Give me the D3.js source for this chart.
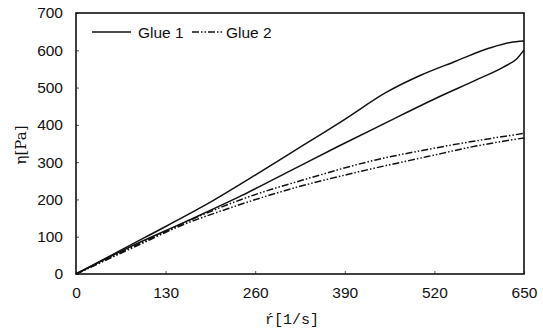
<!DOCTYPE html>
<html>
<head>
<meta charset="utf-8">
<script src="https://d3js.org/d3.v7.min.js"></script>
<style>
  body { margin: 0; background: #fff; }
  svg { display: block; }
  .tick text { font-family: "Liberation Sans", Arial, sans-serif; font-size: 15.5px; fill: #111; }
</style>
</head>
<body>
<svg id="chart" width="543" height="330"></svg>
<script>
// shear rate [1/s] vs viscosity [Pa], up and down sweeps (x ascending)
var glue1Up = [[0,0],[100,98],[200,198],[260,265],[320,334],[390,415],[450,487],[500,533],[550,570],[600,606],[630,621],[650,625]];
var glue1Down = [[0,0],[80,74],[160,141],[240,210],[310,276],[380,342],[450,406],[530,478],[580,520],[620,555],[640,578],[650,601]];
var glue2Up = [[0,0],[100,88],[170,148],[240,200],[340,258],[435,306],[510,334],[600,363],[650,377]];
var glue2Down = [[0,0],[90,77],[150,128],[220,175],[315,230],[410,274],[510,315],[580,343],[650,365]];
var xTicks = [0, 130, 260, 390, 520, 650];
var yTicks = [0, 100, 200, 300, 400, 500, 600, 700];

var svg = d3.select("#chart");
var mLeft = 76, mRight = 524, mTop = 13, mBottom = 274;

var xScale = d3.scaleLinear().domain([0, 650]).range([mLeft, mRight]);
var yScale = d3.scaleLinear().domain([0, 700]).range([mBottom, mTop]);

// axes
svg.append("g")
  .attr("class", "x axis")
  .attr("transform", "translate(0," + mBottom + ")")
  .call(d3.axisBottom(xScale).tickValues(xTicks).tickSizeInner(-3).tickSizeOuter(0).tickPadding(13))
  .call(g => g.select(".domain").remove())
  .call(g => g.selectAll(".tick line").attr("stroke", "#555"));

svg.append("g")
  .attr("class", "y axis")
  .attr("transform", "translate(" + mLeft + ",0)")
  .call(d3.axisLeft(yScale).tickValues(yTicks).tickSizeInner(-3).tickSizeOuter(0).tickPadding(13))
  .call(g => g.select(".domain").remove())
  .call(g => g.selectAll(".tick line").attr("stroke", "#555"));

// frame
svg.append("rect")
  .attr("x", mLeft).attr("y", mTop)
  .attr("width", mRight - mLeft).attr("height", mBottom - mTop)
  .attr("fill", "none").attr("stroke", "#111").attr("stroke-width", 1.6);

var line = d3.line()
  .x(d => xScale(d[0]))
  .y(d => yScale(d[1]))
  .curve(d3.curveMonotoneX);

var dashG2 = "7,2,1.5,2,1.5,2";
var series = [
  { data: glue1Up, dash: null },
  { data: glue1Down, dash: null },
  { data: glue2Up, dash: dashG2 },
  { data: glue2Down, dash: dashG2 }
];
series.forEach(s => {
  svg.append("path")
    .attr("d", line(s.data))
    .attr("fill", "none")
    .attr("stroke", "#111")
    .attr("stroke-width", 1.5)
    .attr("stroke-dasharray", s.dash);
});

// legend
var lg = svg.append("g").attr("class", "legend");
lg.append("line").attr("x1", 92).attr("x2", 131).attr("y1", 32).attr("y2", 32)
  .attr("stroke", "#111").attr("stroke-width", 1.5);
lg.append("text").attr("x", 138).attr("y", 37.5).text("Glue 1")
  .style("font-family", "Liberation Sans, Arial, sans-serif").style("font-size", "15.5px").style("fill", "#111");
lg.append("line").attr("x1", 192).attr("x2", 222).attr("y1", 32).attr("y2", 32)
  .attr("stroke", "#111").attr("stroke-width", 1.5).attr("stroke-dasharray", dashG2);
lg.append("text").attr("x", 226).attr("y", 37.5).text("Glue 2")
  .style("font-family", "Liberation Sans, Arial, sans-serif").style("font-size", "15.5px").style("fill", "#111");

// axis titles
svg.append("text")
  .attr("transform", "translate(26,145) rotate(-90)")
  .style("text-anchor", "middle")
  .style("font-family", "DejaVu Serif, serif").style("font-size", "15px").style("fill", "#111")
  .text("η[Pa]");

svg.append("text")
  .attr("x", 292).attr("y", 324)
  .style("text-anchor", "middle")
  .style("font-family", "Liberation Mono, monospace").style("font-size", "15px").style("fill", "#111")
  .text("ŕ[1/s]");
</script>
</body>
</html>
